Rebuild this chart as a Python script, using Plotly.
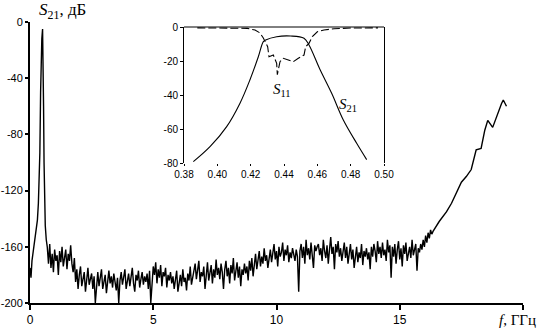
import plotly.graph_objects as go

W, H = 546, 334

# ---------------- main trace: S21 over the wide band ----------------
# peak region (GHz, dB)
peak_f = [0.00, 0.04, 0.08, 0.12, 0.16, 0.20, 0.25, 0.30, 0.34, 0.38, 0.40, 0.43,
          0.45, 0.48, 0.51, 0.53, 0.55, 0.57, 0.59, 0.62, 0.66]
peak_v = [-175, -182, -170, -165, -160, -156, -150, -141, -129, -110, -93, -50,
          -29, -12, -5, -25, -60, -100, -125, -145, -155]

# noisy floor, sampled every 0.05 GHz from 0.70 to 16.30 GHz
noise_start, noise_step = 0.70, 0.05
noise_v = [
    -160, -172, -158, -175, -165, -178, -162, -170, -166, -180, -163, -171, -160, -174, -168, -162, -176, -165, -170, -159,
    -172, -178, -168, -185, -176, -190, -180, -174, -188, -182, -178, -192, -181, -175, -187, -183, -179, -190, -181, -200,
    -185, -178, -188, -182, -176, -190, -184, -180, -193, -183, -177, -186, -181, -189, -179, -185, -191, -182, -200, -184,
    -178, -187, -182, -176, -190, -183, -179, -188, -181, -175, -186, -192, -180, -184, -177, -189, -183, -178, -187, -181,
    -185, -179, -190, -177, -200, -183, -174, -180, -171, -186, -176, -182, -173, -188, -178, -181, -175, -189, -180, -184,
    -178, -186, -181, -190, -183, -177, -192, -184, -180, -188, -176, -185, -182, -191, -179, -184, -174, -187, -181, -178,
    -172, -183, -176, -170, -185, -178, -181, -174, -190, -177, -171, -184, -179, -173, -186, -176, -182, -169, -180, -175,
    -183, -172, -178, -190, -176, -170, -181, -175, -186, -173, -179, -168, -184, -177, -171, -182, -174, -188, -176, -180,
    -172, -179, -174, -184, -170, -177, -168, -181, -173, -165, -176, -170, -163, -174, -167, -172, -161, -170, -166, -175,
    -168, -162, -171, -165, -158, -169, -163, -174, -160, -167, -164, -157, -170, -162, -166, -159, -171, -164, -168, -161,
    -165, -170, -162, -167, -192, -163, -158, -168, -160, -172, -155, -166, -161, -169, -157, -164, -175, -159, -163, -160,
    -158, -166, -161, -170, -155, -163, -168, -159, -172, -162, -153, -165, -160, -176, -158, -164, -156, -167, -161, -170,
    -163, -157, -168, -160, -172, -165, -158, -169, -162, -175, -166, -160, -171, -164, -168, -158, -173, -163, -167, -161,
    -169, -164, -176, -160, -167, -158, -163, -171, -156, -165, -160, -168, -157, -166, -162, -170, -155, -164, -159, -182,
    -160, -167, -158, -172, -162, -156, -169, -161, -174, -159, -165, -157, -170, -163, -160, -168, -155, -166, -162, -158,
    -177, -161, -164, -158, -162, -155, -160, -152, -157, -150, -154, -148, -151,
]

# rising tail (GHz, dB)
tail_f = [16.35, 16.6, 16.9, 17.1, 17.35, 17.5, 17.7, 17.9, 18.1, 18.3, 18.45, 18.57,
          18.77, 18.97, 19.13, 19.2, 19.33]
tail_v = [-149, -142, -135, -129, -119.5, -114, -110, -105, -91, -90, -77, -70,
          -75, -65, -58, -55.5, -60]

noise_f = [round(noise_start + i * noise_step, 3) for i in range(len(noise_v))]
main_f = peak_f + noise_f + tail_f
main_v = peak_v + noise_v + tail_v

# ---------------- inset: passband detail ----------------
ins_s21_f = [0.3856, 0.3956, 0.4056, 0.4136, 0.4196, 0.4246, 0.4276, 0.429, 0.4356,
             0.444, 0.452, 0.455, 0.4616, 0.4686, 0.4756, 0.4836, 0.4896]
ins_s21_v = [-79.2, -70.4, -58.6, -44.8, -31, -17.5, -8.6, -7.6, -5.7,
             -5.3, -6.6, -10.6, -25, -39, -54.7, -68.4, -78]

ins_s11_f = [0.388, 0.400, 0.410, 0.418, 0.4226, 0.4256, 0.4276, 0.4302, 0.431, 0.4336,
             0.4356, 0.436, 0.4376, 0.4396, 0.4426, 0.4456, 0.4486, 0.452, 0.453, 0.455,
             0.457, 0.460, 0.464, 0.470, 0.480, 0.490, 0.4964]
ins_s11_v = [-0.5, -0.5, -0.5, -0.8, -1.8, -3.5, -6.5, -11.6, -17.5, -16.5,
             -21.4, -28, -20.4, -18.4, -19.4, -20.4, -18.4, -16.5, -11.6, -9.6,
             -5.7, -2.8, -1.8, -1.0, -0.6, -0.5, -0.5]

main_yticks = [0, -40, -80, -120, -160, -200]
main_xticks = [0, 5, 10, 15, 20]
main_xtext = ["0", "5", "10", "15", ""]
ins_xticks = [0.38, 0.40, 0.42, 0.44, 0.46, 0.48, 0.50]
ins_yticks = [0, -20, -40, -60, -80]

fig = go.Figure()
fig.add_trace(go.Scatter(x=main_f, y=main_v, mode="lines",
                         line=dict(color="black", width=1.4),
                         xaxis="x", yaxis="y", showlegend=False))
fig.add_trace(go.Scatter(x=ins_s21_f, y=ins_s21_v, mode="lines",
                         line=dict(color="black", width=1.1, shape="spline"),
                         xaxis="x2", yaxis="y2", showlegend=False))
fig.add_trace(go.Scatter(x=ins_s11_f, y=ins_s11_v, mode="lines",
                         line=dict(color="black", width=1.1, dash="8px,3px"),
                         xaxis="x2", yaxis="y2", showlegend=False))

tickfont = dict(family="Liberation Sans, Arial", size=12, color="black")
ytickfont = dict(family="Liberation Sans, Arial", size=11, color="black")
insfont = dict(family="Liberation Sans, Arial", size=10, color="black")

fig.update_layout(
    width=W, height=H,
    margin=dict(l=0, r=0, t=0, b=0),
    paper_bgcolor="white", plot_bgcolor="white",
    xaxis=dict(domain=[30 / W, 523 / W], range=[0, 20], showgrid=False, zeroline=False,
               showline=True, linecolor="black", linewidth=2,
               ticks="outside", ticklen=5, tickwidth=2, tickcolor="black",
               tickvals=main_xticks, ticktext=main_xtext, tickfont=tickfont,
               anchor="y", automargin=False),
    yaxis=dict(domain=[(H - 303) / H, (H - 22) / H], range=[-200, 0], showgrid=False, zeroline=False,
               showline=True, linecolor="black", linewidth=2,
               ticks="outside", ticklen=3, tickwidth=2, tickcolor="black",
               tickvals=main_yticks, ticktext=[str(v) for v in main_yticks], tickfont=ytickfont,
               anchor="x", automargin=False),
    xaxis2=dict(domain=[184 / W, 384 / W], range=[0.38, 0.50], showgrid=False, zeroline=False,
                showline=False, ticks="outside", ticklen=2, tickwidth=1, tickcolor="black",
                tickvals=ins_xticks, ticktext=[f"{v:.2f}" for v in ins_xticks], tickfont=insfont,
                anchor="y2", automargin=False),
    yaxis2=dict(domain=[(H - 163) / H, (H - 27) / H], range=[-80, 0], showgrid=False, zeroline=False,
                showline=True, mirror=True, linecolor="black", linewidth=1,
                ticks="outside", ticklen=3, tickwidth=1, tickcolor="black",
                tickvals=ins_yticks, ticktext=[str(v) for v in ins_yticks], tickfont=insfont,
                anchor="x2", automargin=False),
    shapes=[dict(type="line", xref="x2 domain", yref="y2 domain", x0=0, x1=1, y0=1, y1=1,
                 line=dict(color="black", width=1))],
)

serif = "Liberation Serif, Times New Roman"
fig.add_annotation(text="<i>S</i><sub>21</sub>, дБ", xref="paper", yref="paper",
                   x=37 / W, y=(H - 11) / H, xanchor="left", yanchor="middle",
                   showarrow=False, font=dict(family=serif, size=17, color="black"))
fig.add_annotation(text="<i>f</i>, ГГц", xref="paper", yref="paper",
                   x=497 / W, y=(H - 320) / H, xanchor="left", yanchor="middle",
                   showarrow=False, font=dict(family=serif, size=15, color="black"))
fig.add_annotation(text="<i>S</i><sub>11</sub>", xref="paper", yref="paper",
                   x=271 / W, y=(H - 90) / H, xanchor="left", yanchor="middle",
                   showarrow=False, font=dict(family=serif, size=15, color="black"))
fig.add_annotation(text="<i>S</i><sub>21</sub>", xref="paper", yref="paper",
                   x=337 / W, y=(H - 105) / H, xanchor="left", yanchor="middle",
                   showarrow=False, font=dict(family=serif, size=15, color="black"))

fig.write_html("out.html", config={"displayModeBar": False},
               post_script="document.body.style.margin='0px';document.body.style.overflow='hidden';")
